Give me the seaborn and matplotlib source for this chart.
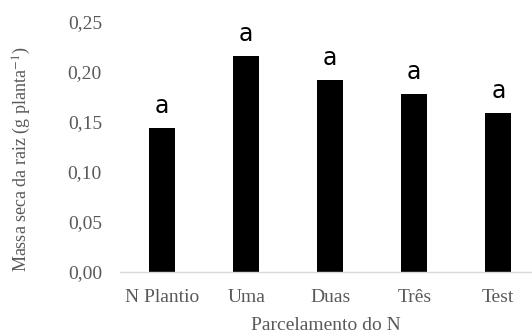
import matplotlib
matplotlib.use("Agg")
import matplotlib.pyplot as plt
import seaborn as sns
import pandas as pd

categories = ["N Plantio", "Uma", "Duas", "Três", "Test"]
massa_seca = [0.144, 0.216, 0.192, 0.178, 0.159]
letras = ["a", "a", "a", "a", "a"]
yticks = [0.00, 0.05, 0.10, 0.15, 0.20, 0.25]
ytick_labels = ["0,00", "0,05", "0,10", "0,15", "0,20", "0,25"]

df = pd.DataFrame({"Parcelamento": categories, "Massa": massa_seca})

sns.set_theme(style="white")
plt.rcParams["font.family"] = ["Liberation Serif", "DejaVu Serif"]
plt.rcParams["mathtext.fontset"] = "stix"
grey = "#595959"

fig = plt.figure(figsize=(5.32, 3.36), dpi=100)
ax = fig.add_axes([120 / 532, 64 / 336, 412 / 532, 250 / 336])

sns.barplot(data=df, x="Parcelamento", y="Massa", color="black",
            width=0.31, saturation=1, ax=ax, edgecolor="none")

for i, (v, t) in enumerate(zip(massa_seca, letras)):
    ax.annotate(t, (i, v), xytext=(0, 7), textcoords="offset points",
                ha="center", va="bottom", fontsize=17,
                family=["DejaVu Sans"], color="black")

ax.set_ylim(0, 0.25)
ax.set_xlim(-0.5, 4.4)
ax.set_yticks(yticks)
ax.set_yticklabels(ytick_labels)
ax.tick_params(axis="both", length=0, colors=grey, labelsize=14)
ax.tick_params(axis="y", pad=13)
ax.tick_params(axis="x", pad=12)

for side in ["left", "right", "top"]:
    ax.spines[side].set_visible(False)
ax.spines["bottom"].set_color("#d9d9d9")
ax.spines["bottom"].set_linewidth(1.0)

ax.set_xlabel("Parcelamento do N", color=grey, fontsize=14, labelpad=8)
ax.set_ylabel("Massa seca da raiz (g planta$^{-1}$)", color=grey, fontsize=13)
ax.yaxis.set_label_coords(-0.21, 0.45)

fig.savefig("out.png", dpi=100)
